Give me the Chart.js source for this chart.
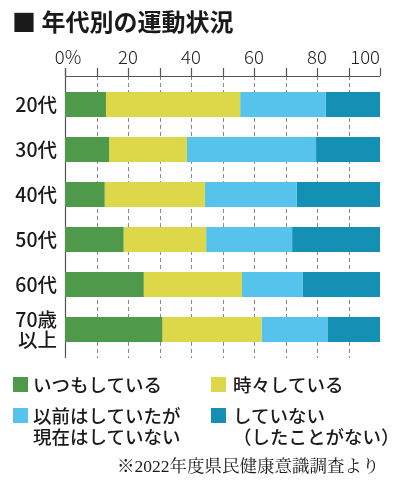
<!DOCTYPE html>
<html><head><meta charset="utf-8">
<script src="https://cdn.jsdelivr.net/npm/chart.js@4.4.1/dist/chart.umd.min.js"></script>
<style>
html,body{margin:0;padding:0;background:#fff;}
#wrap{position:relative;width:400px;height:483px;overflow:hidden;font-family:"Noto Sans CJK JP","Noto Sans",sans-serif;color:#1a1a1a;}
#cv{position:absolute;left:0;top:0;}
.title{position:absolute;left:12px;top:5px;font-size:24px;font-weight:700;line-height:32px;white-space:nowrap;}
.lg{position:absolute;font-size:18.5px;line-height:21px;white-space:nowrap;font-weight:500;}
.sw{position:absolute;width:15px;height:15px;}
.foot{position:absolute;left:117px;top:454px;font-family:"Liberation Serif","Noto Serif CJK JP","Noto Sans CJK JP",serif;font-size:17.5px;line-height:24px;white-space:nowrap;}
</style></head>
<body><div id="wrap">
<canvas id="cv" width="400" height="483"></canvas>
<div class="title">■ 年代別の運動状況</div>
<div class="sw" style="left:13px;top:377px;background:#4e9a4a"></div>
<div class="lg" style="left:33px;top:374px;">いつもしている</div>
<div class="sw" style="left:211px;top:377px;background:#dcd84a"></div>
<div class="lg" style="left:233px;top:374px;">時々している</div>
<div class="sw" style="left:13px;top:408px;background:#55c3ec"></div>
<div class="lg" style="left:33px;top:405px;">以前はしていたが<br>現在はしていない</div>
<div class="sw" style="left:211px;top:408px;background:#1590b5"></div>
<div class="lg" style="left:233px;top:405px;">していない<br>（したことがない）</div>
<div class="foot">※2022年度県民健康意識調査より</div>
</div>
<script>
const categories = ['20代','30代','40代','50代','60代',['70歳','以上']];
const always    = [13.0, 14.0, 12.6, 18.6, 25.0, 30.9];
const sometimes = [42.6, 24.7, 31.8, 26.2, 31.2, 31.5];
const formerly  = [27.2, 41.0, 29.1, 27.3, 19.3, 20.9];
const never     = [17.2, 20.3, 26.5, 27.9, 24.5, 16.7];
const seriesNames = ['いつもしている','時々している','以前はしていたが現在はしていない','していない（したことがない）'];
const tickValues = [0, 20, 40, 60, 80, 100];
const tickLabels = ['0%', '20', '40', '60', '80', '100'];
const gridValues = [0,10,20,30,40,50,60,70,80,90,100];

const colors = ['#4e9a4a','#dcd84a','#55c3ec','#1590b5'];

const axisPlugin = {
  id: 'axisPlugin',
  beforeDatasetsDraw(chart){
    const ctx = chart.ctx, x = chart.scales.x, a = chart.chartArea;
    const lineY = a.top - 6, tickTop = a.top - 14, bottom = a.bottom + 6;
    ctx.save();
    ctx.strokeStyle = '#8a8a8a'; ctx.lineWidth = 1; ctx.setLineDash([4,3]);
    gridValues.forEach(v => {
      if (v === 0 || v === 100) return;
      const px = Math.round(x.getPixelForValue(v)) + 0.5;
      ctx.beginPath(); ctx.moveTo(px, lineY); ctx.lineTo(px, bottom); ctx.stroke();
    });
    ctx.setLineDash([]);
    ctx.strokeStyle = '#555'; ctx.lineWidth = 1.2;
    const x0 = x.getPixelForValue(0), x1 = x.getPixelForValue(100);
    ctx.beginPath(); ctx.moveTo(x0, lineY + 0.5); ctx.lineTo(x1, lineY + 0.5); ctx.stroke();
    gridValues.forEach(v => {
      const px = Math.round(x.getPixelForValue(v)) + 0.5;
      ctx.beginPath(); ctx.moveTo(px, tickTop); ctx.lineTo(px, lineY); ctx.stroke();
    });
    ctx.beginPath(); ctx.moveTo(Math.round(x0)+0.5, tickTop); ctx.lineTo(Math.round(x0)+0.5, bottom); ctx.stroke();
    ctx.fillStyle = '#222';
    ctx.font = '300 18.5px "Noto Sans CJK JP", "Noto Sans", sans-serif';
    ctx.textBaseline = 'middle';
    tickValues.forEach((v, i) => {
      const px = x.getPixelForValue(v);
      ctx.textAlign = (i === tickValues.length - 1) ? 'right' : 'center';
      const off = (i === 0) ? 3 : 0;
      ctx.fillText(tickLabels[i], px + off, a.top - 25);
    });
    ctx.restore();
  }
};

new Chart(document.getElementById('cv'), {
  type: 'bar',
  data: {
    labels: categories,
    datasets: [always, sometimes, formerly, never].map((d, i) => ({
      label: seriesNames[i], data: d, backgroundColor: colors[i],
      borderWidth: 0, barPercentage: 0.56, categoryPercentage: 1.0
    }))
  },
  options: {
    indexAxis: 'y',
    responsive: false,
    animation: false,
    layout: { padding: { top: 0, right: 20, bottom: 131, left: 0 } },
    plugins: { legend: { display: false }, tooltip: { enabled: false } },
    scales: {
      x: {
        position: 'top', stacked: true, min: 0, max: 100,
        grid: { display: false, drawTicks: false }, border: { display: false },
        ticks: { display: false },
        afterFit(s){ s.height = 82; }
      },
      y: {
        stacked: true,
        grid: { display: false, drawTicks: false }, border: { display: false },
        ticks: { color: '#1a1a1a', padding: 8, font: { family: '"Noto Sans CJK JP", sans-serif', size: 19.5, weight: '500', lineHeight: 1.0 } },
        afterFit(s){ s.width = 65; }
      }
    }
  },
  plugins: [axisPlugin]
});
</script>
</body></html>
